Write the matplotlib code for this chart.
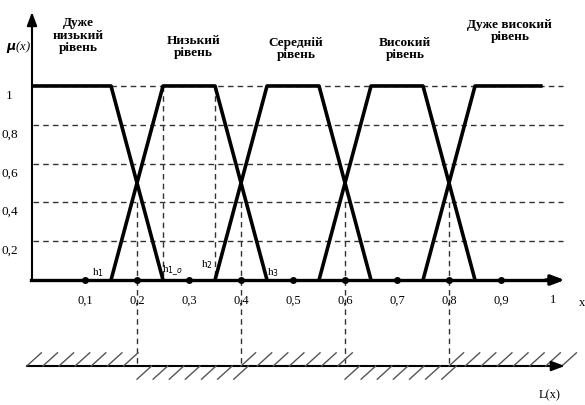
import numpy as np
import matplotlib
matplotlib.use("Agg")
from matplotlib import pyplot as plt

# fuzzy terms: trapezoid breakpoints (x values), membership levels
terms = ["Дуже\nнизький\nрівень", "Низький\nрівень", "Середній\nрівень",
         "Високий\nрівень", "Дуже високий\nрівень"]
traps = [[0.0, 0.0, 0.15, 0.25],
         [0.15, 0.25, 0.35, 0.45],
         [0.35, 0.45, 0.55, 0.65],
         [0.55, 0.65, 0.75, 0.85],
         [0.75, 0.85, 0.98, 0.98]]
trap_mu = [0, 1, 1, 0]
term_x = [0.087, 0.308, 0.506, 0.715, 0.917]
term_y = [1.258, 1.201, 1.19, 1.19, 1.283]

xticks = [0.1, 0.2, 0.3, 0.4, 0.5, 0.6, 0.7, 0.8, 0.9, 1.0]
xticklabels = ["0,1", "0,2", "0,3", "0,4", "0,5", "0,6", "0,7", "0,8", "0,9", "1"]
yticks = [0.2, 0.4, 0.6, 0.8, 1.0]
yticklabels = ["0,2", "0,4", "0,6", "0,8", "1"]
dots = [0.1, 0.2, 0.3, 0.4, 0.5, 0.6, 0.7, 0.8, 0.9]

cross_x = [0.2, 0.4, 0.6, 0.8]      # boundaries between levels
plateau_x = [0.25, 0.35]            # h1_o, h2 markers
h_labels = ["h$_1$", "h$_{1\\_o}$", "h$_2$", "h$_3$"]
h_pos = [(0.125, 0.04), (0.268, 0.05), (0.335, 0.077), (0.462, 0.04)]

# second axis L(x): sides of hatching between boundaries
L_y = -0.443
L_bounds = [-0.012, 0.2, 0.4, 0.6, 0.8, 1.03]
L_side = [1, -1, 1, -1, 1]

plt.rcParams["font.family"] = ["Liberation Serif", "DejaVu Serif"]
fig = plt.figure(figsize=(5.85, 4.05), dpi=100)
ax = fig.add_axes([0, 0, 1, 1])
ax.set_xlim(-0.0635, 1.0615)
ax.set_ylim(-0.644, 1.443)
ax.axis("off")

dash = dict(color="#333333", lw=1.0, ls=(0, (4, 3)))

# horizontal grid
for yv, lab in zip(yticks, yticklabels):
    ax.plot([0.0, 1.02], [yv, yv], **dash)
    ax.text(-0.045, yv - 0.05, lab, ha="center", va="center", fontsize=9.5)

# vertical dashed lines
for xv in cross_x:
    ax.plot([xv, xv], [0.4, L_y], **dash)
for xv in plateau_x:
    ax.plot([xv, xv], [1.0, 0.0], **dash)

# trapezoids
for tr in traps:
    if tr[0] == tr[1]:
        ax.plot(tr[1:], trap_mu[1:], color="black", lw=2.6, solid_capstyle="butt")
    elif tr[2] == tr[3]:
        ax.plot(tr[:3], trap_mu[:3], color="black", lw=2.6, solid_capstyle="butt")
    else:
        ax.plot(tr, trap_mu, color="black", lw=2.6, solid_capstyle="butt")

for name, tx, ty in zip(terms, term_x, term_y):
    ax.text(tx, ty, name, ha="center", va="center", fontsize=9.5,
            fontweight="bold", linespacing=1.05)

# axes with arrows
ax.plot([-0.002, -0.002], [0, 1.36], color="black", lw=1.5)
ax.annotate("", xy=(-0.002, 1.395), xytext=(-0.002, 1.3),
            arrowprops=dict(arrowstyle="-|>,head_length=0.8,head_width=0.3", color="black", lw=1.5))
ax.plot([-0.003, 1.0], [0, 0], color="black", lw=2.4)
ax.annotate("", xy=(1.028, 0), xytext=(0.98, 0),
            arrowprops=dict(arrowstyle="-|>,head_length=0.8,head_width=0.3", color="black", lw=2.4))
ax.plot(dots, np.zeros(len(dots)), "o", color="black", ms=4)

for xv, lab in zip(xticks, xticklabels):
    ax.text(xv, -0.105, lab, ha="center", va="center", fontsize=9)
ax.text(1.055, -0.12, "x", ha="center", va="center", fontsize=9)
ax.text(-0.028, 1.2, "$\\boldsymbol{\\mu}$(x)", ha="center", va="center", fontsize=9, style="italic")

for lab, (hx, hy) in zip(h_labels, h_pos):
    ax.text(hx, hy, lab, ha="center", va="center", fontsize=8)

# lower axis L(x)
ax.plot([L_bounds[0], 1.0], [L_y, L_y], color="black", lw=1.5)
ax.annotate("", xy=(1.028, L_y), xytext=(0.99, L_y),
            arrowprops=dict(arrowstyle="-|>,head_length=0.8,head_width=0.3", color="black", lw=1.5))
hw, hh, step = 0.028, 0.068, 0.031
for (a, b), s in zip(zip(L_bounds[:-1], L_bounds[1:]), L_side):
    for xs in np.arange(a, b - 0.005, step):
        if s > 0:
            ax.plot([xs, xs + hw], [L_y, L_y + hh], color="#555555", lw=1.0)
        else:
            ax.plot([xs, xs + hw], [L_y - hh, L_y], color="#555555", lw=1.0)
ax.text(0.993, -0.593, "L(x)", ha="center", va="center", fontsize=9)

plt.savefig("out.png", dpi=100)
